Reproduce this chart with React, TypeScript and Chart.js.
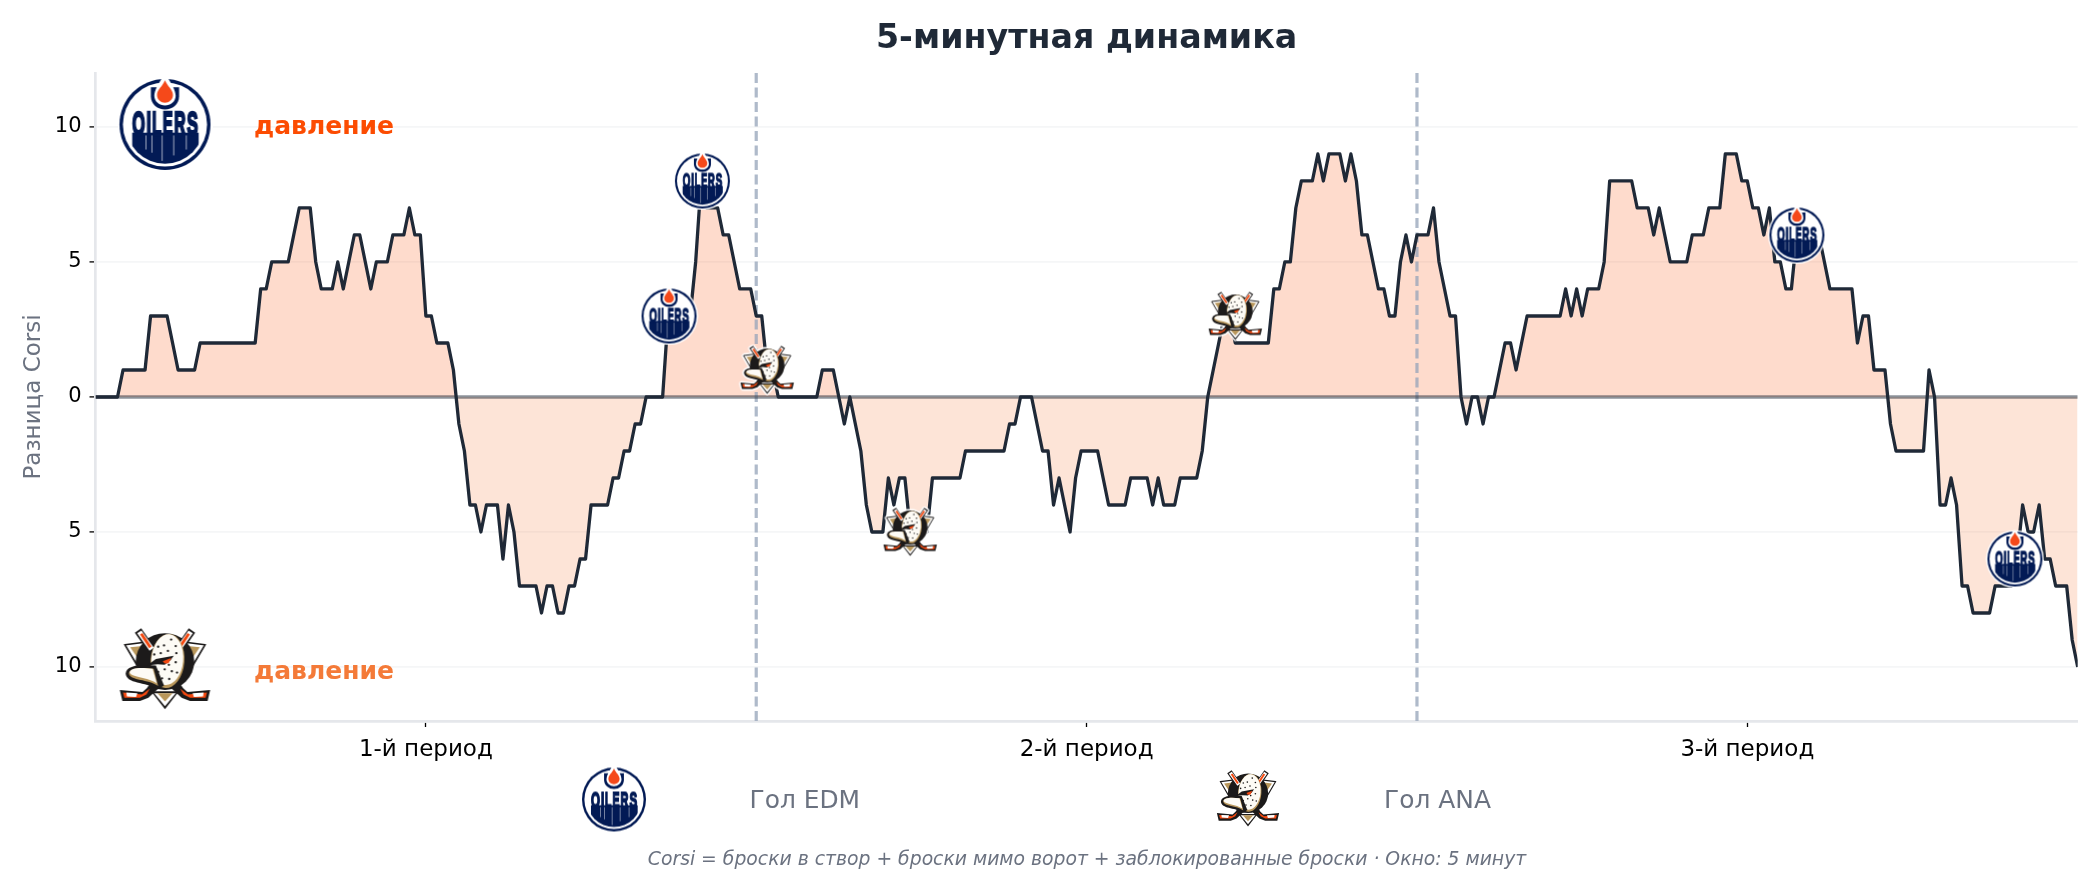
import React, { useEffect, useRef } from "react";
import { Chart, registerables } from "chart.js";

Chart.register(...registerables);

const period1: number[] = [
  0,0,0,0,0,1,1,1,1,1, 3,3,3,3,2,1,1,1,1,2, 2,2,2,2,2,2,2,2,2,2,
  4,4,5,5,5,5,6,7,7,7, 5,4,4,4,5,4,5,6,6,5, 4,5,5,5,6,6,6,7,6,6,
  3,3,2,2,2,1,-1,-2,-4,-4, -5,-4,-4,-4,-6,-4,-5,-7,-7,-7, -7,-8,-7,-7,-8,-8,-7,-7,-6,-6,
  -4,-4,-4,-4,-3,-3,-2,-2,-1,-1, 0,0,0,0,3,3,3,3,3,5, 8,7,7,7,6,6,5,4,4,4,
];
const period2: number[] = [
  3,3,1,1,0,0,0,0,0,0, 0,0,1,1,1,0,-1,0,-1,-2, -4,-5,-5,-5,-3,-4,-3,-3,-5,-5,
  -5,-5,-3,-3,-3,-3,-3,-3,-2,-2, -2,-2,-2,-2,-2,-2,-1,-1,0,0, 0,-1,-2,-2,-4,-3,-4,-5,-3,-2,
  -2,-2,-2,-3,-4,-4,-4,-4,-3,-3, -3,-3,-4,-3,-4,-4,-4,-3,-3,-3, -3,-2,0,1,2,3,3,2,2,2,
  2,2,2,2,4,4,5,5,7,8, 8,8,9,8,9,9,9,8,9,8, 6,6,5,4,4,3,3,5,6,5,
];
const period3: number[] = [
  6,6,6,7,5,4,3,3,0,-1, 0,0,-1,0,0,1,2,2,1,2, 3,3,3,3,3,3,3,4,3,4,
  3,4,4,4,5,8,8,8,8,8, 7,7,7,6,7,6,5,5,5,5, 6,6,6,7,7,7,9,9,9,8,
  8,7,7,6,7,5,5,4,4,6, 6,6,6,6,5,4,4,4,4,4, 2,3,3,1,1,1,-1,-2,-2,-2,
  -2,-2,-2,1,0,-4,-4,-3,-4,-7, -7,-8,-8,-8,-8,-7,-7,-7,-7,-6, -4,-5,-5,-4,-6,-6,-7,-7,-7,-9,-10,
];
const corsiDiff: number[] = [...period1, ...period2, ...period3];
const sampleMinutes = 1 / 6;

const edmGoalMinutes = [17.36, 18.37, 51.5, 58.1];
const edmGoalValues = [3, 8, 6, -6];
const anaGoalMinutes = [20.33, 24.66, 34.5];
const anaGoalValues = [1, -5, 3];

const periodBreaks = [20, 40];
const periodTicks = [10, 30, 50];
const periodLabels = ["1-й период", "2-й период", "3-й период"];
const yTicks = [-10, -5, 0, 5, 10];

const TITLE = "5-минутная динамика";
const Y_TITLE = "Разница Corsi";
const PRESSURE = "давление";
const LEGEND_EDM = "Гол EDM";
const LEGEND_ANA = "Гол ANA";
const FOOTNOTE = "Corsi = броски в створ + броски мимо ворот + заблокированные броски · Окно: 5 минут";

const FONT = '"DejaVu Sans", sans-serif';
const NAVY = "#021A55";

function drawOilers(c: CanvasRenderingContext2D) {
  const circle = (x: number, y: number, r: number, f: string) => {
    c.fillStyle = f;
    c.beginPath();
    c.arc(x, y, r, 0, Math.PI * 2);
    c.fill();
  };
  circle(0, 0, 1.05, "#fff");
  circle(0, 0, 1, NAVY);
  circle(0, 0, 0.925, "#fff");
  // lower oil field
  c.save();
  c.beginPath();
  c.arc(0, 0, 0.86, 0, Math.PI * 2);
  c.clip();
  c.fillStyle = NAVY;
  c.fillRect(-0.72, 0.18, 1.46, 0.82);
  c.restore();
  // letters, each squeezed into its own narrow cell
  const letters = ["O", "I", "L", "E", "R", "S"];
  const cells = [0.31, 0.13, 0.23, 0.25, 0.28, 0.27];
  let x0 = -0.73;
  c.font = 'bold 100px "Liberation Sans", sans-serif';
  c.textBaseline = "alphabetic";
  const splits: number[] = [];
  letters.forEach((ch, i) => {
    const w = c.measureText(ch).width;
    c.save();
    c.translate(x0 + 0.012, 0.235);
    c.scale((cells[i] - 0.03) / w, 0.5 / 70);
    c.fillStyle = NAVY;
    c.strokeStyle = NAVY;
    c.lineWidth = 8;
    c.fillText(ch, 0, 0);
    c.strokeText(ch, 0, 0);
    c.restore();
    x0 += cells[i];
    splits.push(x0);
  });
  // thin drips between the letters
  c.fillStyle = "#fff";
  const dripEnds = [0.55, 0.62, 0.8, 0.68, 0.55];
  splits.slice(0, 5).forEach((x, i) => c.fillRect(x - 0.007, 0.24, 0.014, dripEnds[i] - 0.24));
  // ring around drop
  c.fillStyle = NAVY;
  c.beginPath();
  c.moveTo(-0.31, -0.82);
  c.lineTo(-0.31, -0.62);
  c.bezierCurveTo(-0.31, -0.44, -0.16, -0.33, 0, -0.33);
  c.bezierCurveTo(0.16, -0.33, 0.31, -0.44, 0.31, -0.62);
  c.lineTo(0.31, -0.82);
  c.closePath();
  c.fill();
  c.fillStyle = "#fff";
  c.beginPath();
  c.moveTo(-0.06, -1.03);
  c.lineTo(0.06, -1.03);
  c.bezierCurveTo(0.14, -0.9, 0.235, -0.76, 0.235, -0.63);
  c.bezierCurveTo(0.235, -0.5, 0.12, -0.415, 0, -0.415);
  c.bezierCurveTo(-0.12, -0.415, -0.235, -0.5, -0.235, -0.63);
  c.bezierCurveTo(-0.235, -0.76, -0.14, -0.9, -0.06, -1.03);
  c.closePath();
  c.fill();
  c.fillStyle = "#F5491A";
  c.beginPath();
  c.moveTo(0, -0.97);
  c.bezierCurveTo(0.05, -0.84, 0.175, -0.76, 0.175, -0.65);
  c.bezierCurveTo(0.175, -0.55, 0.09, -0.48, 0, -0.48);
  c.bezierCurveTo(-0.09, -0.48, -0.175, -0.55, -0.175, -0.65);
  c.bezierCurveTo(-0.175, -0.76, -0.05, -0.84, 0, -0.97);
  c.closePath();
  c.fill();
}

function makeOilers(size: number) {
  const cv = document.createElement("canvas");
  const pad = 2;
  cv.width = size + pad * 2;
  cv.height = size + pad * 2;
  const c = cv.getContext("2d")!;
  c.translate(cv.width / 2, cv.height / 2);
  c.scale(size / 2, size / 2);
  drawOilers(c);
  return cv;
}

const DUCK_BLACK = "#1c1a1a";
const DUCK_TAN = "#B9975B";
const DUCK_ORANGE = "#F4480F";
const duckSpots: [number, number][] = [
  [172, 92], [190, 88], [212, 70], [226, 90], [180, 112], [202, 105], [228, 112], [160, 116],
  [226, 140], [172, 170], [192, 162], [214, 168], [162, 184], [184, 190], [206, 192], [230, 172], [205, 148],
];

function drawDuck(c: CanvasRenderingContext2D) {
  const poly = (pts: number[][], fill: string, stroke?: string, lw = 0) => {
    c.beginPath();
    pts.forEach((p, i) => (i ? c.lineTo(p[0], p[1]) : c.moveTo(p[0], p[1])));
    c.closePath();
    if (fill) {
      c.fillStyle = fill;
      c.fill();
    }
    if (stroke) {
      c.strokeStyle = stroke;
      c.lineWidth = lw;
      c.lineJoin = "miter";
      c.stroke();
    }
  };
  const mirror = (pts: number[][]) => pts.map((p) => [386 - p[0], p[1]]);
  const seg = (a: number[], b: number[], col: string, lw: number) => {
    c.strokeStyle = col;
    c.lineWidth = lw;
    c.lineCap = "butt";
    c.beginPath();
    c.moveTo(a[0], a[1]);
    c.lineTo(b[0], b[1]);
    c.stroke();
  };
  const tri = [[70, 86], [150, 76], [118, 168]];
  const triIn = [[86, 94], [140, 88], [116, 138]];
  poly(tri, "#fff", DUCK_BLACK, 5);
  poly(mirror(tri), "#fff", DUCK_BLACK, 5);
  poly(triIn, DUCK_TAN);
  poly(mirror(triIn), DUCK_TAN);
  c.fillStyle = DUCK_BLACK;
  c.beginPath();
  c.ellipse(193, 138, 90, 88, 0, 0, Math.PI * 2);
  c.fill();
  [0, 1].forEach((m) => {
    const mx = (p: number[]) => (m ? [386 - p[0], p[1]] : p);
    seg(mx([110, 42]), mx([238, 226]), DUCK_BLACK, 24);
    seg(mx([114, 46]), mx([152, 100]), "#fff", 16);
    seg(mx([120, 52]), mx([148, 94]), DUCK_ORANGE, 9);
    const blade = [[232, 205], [262, 232], [332, 226], [324, 260], [270, 260], [244, 250], [214, 222]];
    const bladeIn = [[240, 222], [264, 240], [322, 234], [318, 250], [270, 250], [250, 240]];
    poly(m ? blade.map(mx) : blade, DUCK_BLACK);
    poly(m ? bladeIn.map(mx) : bladeIn, DUCK_ORANGE);
    const w = [[278, 236], [312, 234], [310, 246], [282, 248]];
    poly(m ? w.map(mx) : w, "#fff");
  });
  c.save();
  c.translate(200, 132);
  c.rotate(0.08);
  c.fillStyle = DUCK_TAN;
  c.beginPath();
  c.ellipse(1, 4, 52, 84, 0, 0, Math.PI * 2);
  c.fill();
  c.fillStyle = "#fdfbf5";
  c.beginPath();
  c.ellipse(0, 0, 49, 79, 0, 0, Math.PI * 2);
  c.fill();
  c.restore();
  c.fillStyle = DUCK_BLACK;
  duckSpots.forEach(([x, y]) => {
    c.beginPath();
    c.arc(x, y, 3.6, 0, Math.PI * 2);
    c.fill();
  });
  poly([[138, 150], [165, 130], [220, 120], [210, 134], [192, 148], [170, 146]], DUCK_BLACK);
  poly([[186, 137], [212, 127], [204, 143], [192, 144]], DUCK_ORANGE);
  c.beginPath();
  c.moveTo(165, 150);
  c.bezierCurveTo(120, 148, 74, 146, 72, 176);
  c.bezierCurveTo(76, 208, 130, 200, 172, 224);
  c.lineTo(190, 212);
  c.closePath();
  c.fillStyle = DUCK_BLACK;
  c.fill();
  c.beginPath();
  c.moveTo(158, 160);
  c.bezierCurveTo(118, 156, 84, 156, 82, 176);
  c.bezierCurveTo(88, 198, 140, 192, 172, 214);
  c.closePath();
  c.fillStyle = DUCK_TAN;
  c.fill();
  c.beginPath();
  c.moveTo(155, 160);
  c.bezierCurveTo(118, 156, 86, 156, 84, 172);
  c.bezierCurveTo(92, 188, 140, 186, 168, 206);
  c.closePath();
  c.fillStyle = "#fdfbf5";
  c.fill();
  poly([[150, 230], [236, 230], [193, 286]], DUCK_BLACK);
  poly([[160, 236], [226, 236], [193, 276]], "#fff");
  poly([[170, 236], [216, 236], [193, 262]], DUCK_TAN);
}

function makeDuck(w: number, h: number) {
  const base = document.createElement("canvas");
  base.width = w;
  base.height = h;
  const b = base.getContext("2d")!;
  b.scale(w / 286, h / 254);
  b.translate(-50, -34);
  drawDuck(b);
  // white silhouette behind the logo gives the halo
  const sil = document.createElement("canvas");
  sil.width = w;
  sil.height = h;
  const s = sil.getContext("2d")!;
  s.drawImage(base, 0, 0);
  s.globalCompositeOperation = "source-in";
  s.fillStyle = "#fff";
  s.fillRect(0, 0, w, h);
  const cv = document.createElement("canvas");
  cv.width = w + 4;
  cv.height = h + 4;
  const c = cv.getContext("2d")!;
  [[-1.5, 0], [1.5, 0], [0, -1.5], [0, 1.5], [-1, -1], [1, 1], [-1, 1], [1, -1]].forEach(([dx, dy]) =>
    c.drawImage(sil, 2 + dx, 2 + dy)
  );
  c.drawImage(base, 2, 2);
  return cv;
}

export default function App() {
  const ref = useRef<HTMLCanvasElement | null>(null);
  useEffect(() => {
    const canvas = ref.current;
    if (!canvas) return;
    const series = corsiDiff.map((y, i) => ({ x: i * sampleMinutes, y }));
    const edmPts = edmGoalMinutes.map((x, i) => ({ x, y: edmGoalValues[i] }));
    const anaPts = anaGoalMinutes.map((x, i) => ({ x, y: anaGoalValues[i] }));
    const goalOil = makeOilers(55);
    const goalDuck = makeDuck(55, 49);
    const bigOil = makeOilers(91);
    const bigDuck = makeDuck(93, 82);
    const legOil = makeOilers(64);
    const legDuck = makeDuck(64, 57);

    const overlay = {
      id: "overlay",
      afterDatasetsDraw(chart: any) {
        const c: CanvasRenderingContext2D = chart.ctx;
        c.save();
        const put = (im: HTMLCanvasElement, x: number, y: number) =>
          c.drawImage(im, x - im.width / 2, y - im.height / 2);
        put(bigOil, 165, 124.5);
        put(bigDuck, 165, 669);
        put(legOil, 614, 799.5);
        put(legDuck, 1248, 798.5);
        c.textBaseline = "middle";
        c.textAlign = "left";
        c.font = `bold 25px ${FONT}`;
        c.fillStyle = "#FC4C02";
        c.fillText(PRESSURE, 254, 127.5);
        c.fillStyle = "#F47A38";
        c.fillText(PRESSURE, 254, 672.5);
        c.font = `24.9px ${FONT}`;
        c.fillStyle = "#6b7280";
        c.fillText(LEGEND_EDM, 749.5, 802);
        c.fillText(LEGEND_ANA, 1384, 802);
        c.font = `italic 18.8px ${FONT}`;
        c.textAlign = "center";
        c.fillText(FOOTNOTE, 1087, 860);
        c.restore();
      },
    };

    const chart = new Chart(canvas, {
      type: "line",
      plugins: [overlay],
      data: {
        datasets: [
          { label: "edm", data: edmPts, showLine: false, pointStyle: goalOil, pointRadius: 20, clip: false },
          { label: "ana", data: anaPts, showLine: false, pointStyle: goalDuck, pointRadius: 20, clip: false },
          {
            label: "line",
            data: series,
            borderColor: "#1f2937",
            borderWidth: 3.3,
            borderJoinStyle: "round",
            pointRadius: 0,
            fill: false,
            tension: 0,
          },
          {
            label: "zero",
            data: [{ x: 0, y: 0 }, { x: 60, y: 0 }],
            borderColor: "rgba(31,41,55,0.5)",
            borderWidth: 3.3,
            pointRadius: 0,
          },
          ...periodBreaks.map((b) => ({
            label: "p" + b,
            data: [{ x: b, y: -12 }, { x: b, y: 12 }],
            borderColor: "rgba(148,163,184,0.75)",
            borderWidth: 3.2,
            borderDash: [10, 4.5],
            pointRadius: 0,
          })),
          {
            label: "fill",
            data: series,
            borderWidth: 0,
            borderColor: "transparent",
            pointRadius: 0,
            tension: 0,
            fill: {
              target: { value: 0 },
              above: "rgba(252,76,2,0.2)",
              below: "rgba(244,122,56,0.2)",
            },
          },
        ] as any,
      },
      options: {
        responsive: false,
        animation: false,
        devicePixelRatio: 1,
        layout: { padding: { left: 0, right: 22.3, top: 0, bottom: 0 } },
        plugins: {
          legend: { display: false },
          tooltip: { enabled: false },
          title: {
            display: true,
            text: TITLE,
            fullSize: false,
            color: "#1f2937",
            font: { family: FONT, size: 33.3, weight: "bold" },
            padding: { top: 19.5, bottom: 13.5 },
          },
        },
        scales: {
          x: {
            type: "linear",
            min: 0,
            max: 60,
            afterFit(s: any) {
              s.height = 169;
            },
            afterBuildTicks(s: any) {
              s.ticks = periodTicks.map((value) => ({ value }));
            },
            grid: { drawOnChartArea: false, drawTicks: true, tickColor: "#000", tickLength: 6, tickWidth: 1.3 },
            border: { color: "#e5e7eb", width: 2.7 },
            ticks: {
              autoSkip: false,
              maxRotation: 0,
              color: "#000",
              padding: 9,
              font: { family: FONT, size: 23 },
              callback: (v: any) => periodLabels[periodTicks.indexOf(Number(v))] ?? "",
            },
          },
          y: {
            type: "linear",
            min: -12,
            max: 12,
            afterFit(s: any) {
              s.width = 95.5;
            },
            afterBuildTicks(s: any) {
              s.ticks = yTicks.map((value) => ({ value }));
            },
            grid: { color: "#f5f6f7", lineWidth: 1.8, drawTicks: true, tickColor: "#000", tickLength: 6, tickWidth: 1.3 },
            border: { color: "#e5e7eb", width: 2.7 },
            ticks: {
              color: "#000",
              padding: 8,
              font: { family: FONT, size: 21 },
              callback: (v: any) => String(Math.abs(Number(v))),
            },
            title: {
              display: true,
              text: Y_TITLE,
              color: "#6b7280",
              font: { family: FONT, size: 23 },
              padding: { top: 20, bottom: 0 },
            },
          },
        },
      } as any,
    });
    return () => chart.destroy();
  }, []);
  return (
    <div style={{ position: "fixed", left: 0, top: 0, width: 2100, height: 890, background: "#fff" }}>
      <canvas ref={ref} width={2100} height={890} style={{ display: "block" }} />
    </div>
  );
}
